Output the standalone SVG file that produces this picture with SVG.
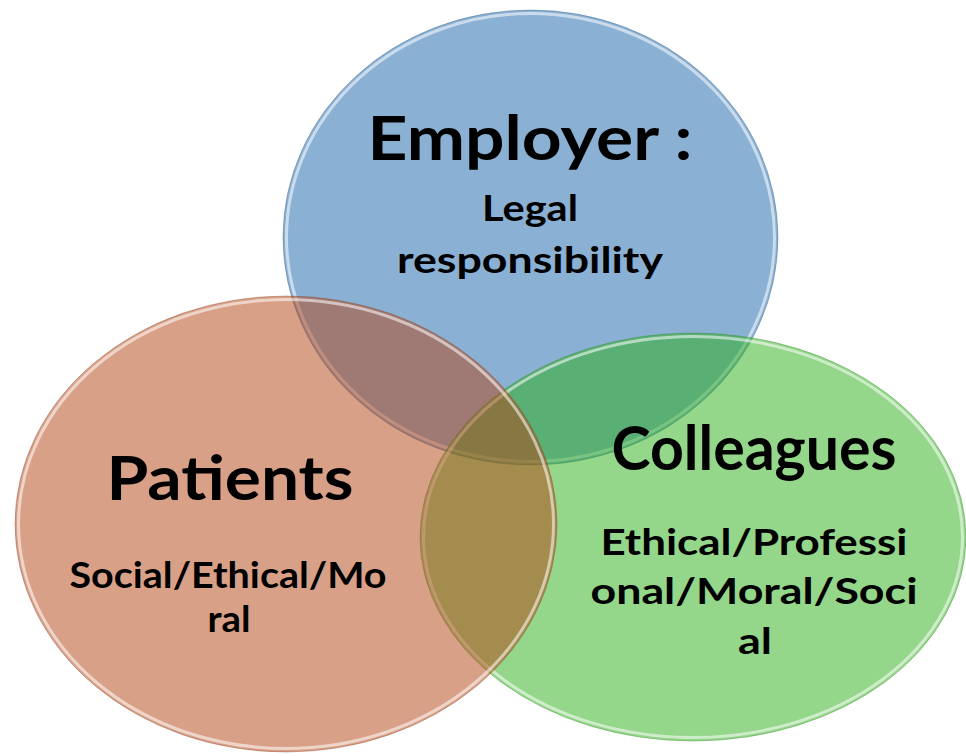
<svg xmlns="http://www.w3.org/2000/svg" width="966" height="756" viewBox="0 0 966 756">
<style>
.c{fill-opacity:0.5}
.rim{fill:none;stroke:#ffffff;stroke-opacity:0.55;stroke-width:3}
.line{fill:none;stroke-width:1;stroke-opacity:0.4}
text{font-family:Lato,"Open Sans","Liberation Sans",sans-serif;font-weight:bold;fill:#000;text-anchor:middle}
.big{font-size:62px}
.small{font-size:37px}
</style>
<rect width="966" height="756" fill="#ffffff"/>
<g id="employer">
<ellipse class="c" cx="530.5" cy="237.5" rx="247.5" ry="227.5" fill="#1562A9"/>
<ellipse class="rim" cx="530.5" cy="237.5" rx="244" ry="224"/>
<ellipse class="line" cx="530.5" cy="237.5" rx="247.5" ry="227.5" stroke="#3a5f80"/>
<text class="big" x="530" y="160" textLength="325" lengthAdjust="spacingAndGlyphs">Employer :</text>
<text class="small" x="530" y="221" textLength="96" lengthAdjust="spacingAndGlyphs">Legal</text>
<text class="small" x="530" y="273" textLength="266" lengthAdjust="spacingAndGlyphs">responsibility</text>
</g>
<g id="colleagues">
<ellipse class="c" cx="693" cy="537" rx="273" ry="204" fill="#29AD15"/>
<ellipse class="rim" cx="693" cy="537" rx="269.5" ry="200.5"/>
<ellipse class="line" cx="693" cy="537" rx="273" ry="204" stroke="#3d8a30"/>
<text class="big" x="754" y="470" textLength="285" lengthAdjust="spacingAndGlyphs">Colleagues</text>
<text class="small" x="754" y="555" textLength="307" lengthAdjust="spacingAndGlyphs">Ethical/Professi</text>
<text class="small" x="754" y="604" textLength="327" lengthAdjust="spacingAndGlyphs">onal/Moral/Soci</text>
<text class="small" x="755" y="654" textLength="34" lengthAdjust="spacingAndGlyphs">al</text>
</g>
<g id="patients">
<ellipse class="c" cx="286" cy="524" rx="271" ry="228" fill="#B34111"/>
<ellipse class="rim" cx="286" cy="524" rx="267.5" ry="224.5"/>
<ellipse class="line" cx="286" cy="524" rx="271" ry="228" stroke="#8a4a30"/>
<text class="big" x="230" y="500" textLength="247" lengthAdjust="spacingAndGlyphs">Patients</text>
<text class="small" x="228" y="588" textLength="317" lengthAdjust="spacingAndGlyphs">Social/Ethical/Mo</text>
<text class="small" x="229" y="632" textLength="43" lengthAdjust="spacingAndGlyphs">ral</text>
</g>
<g id="connectors"></g>
</svg>
